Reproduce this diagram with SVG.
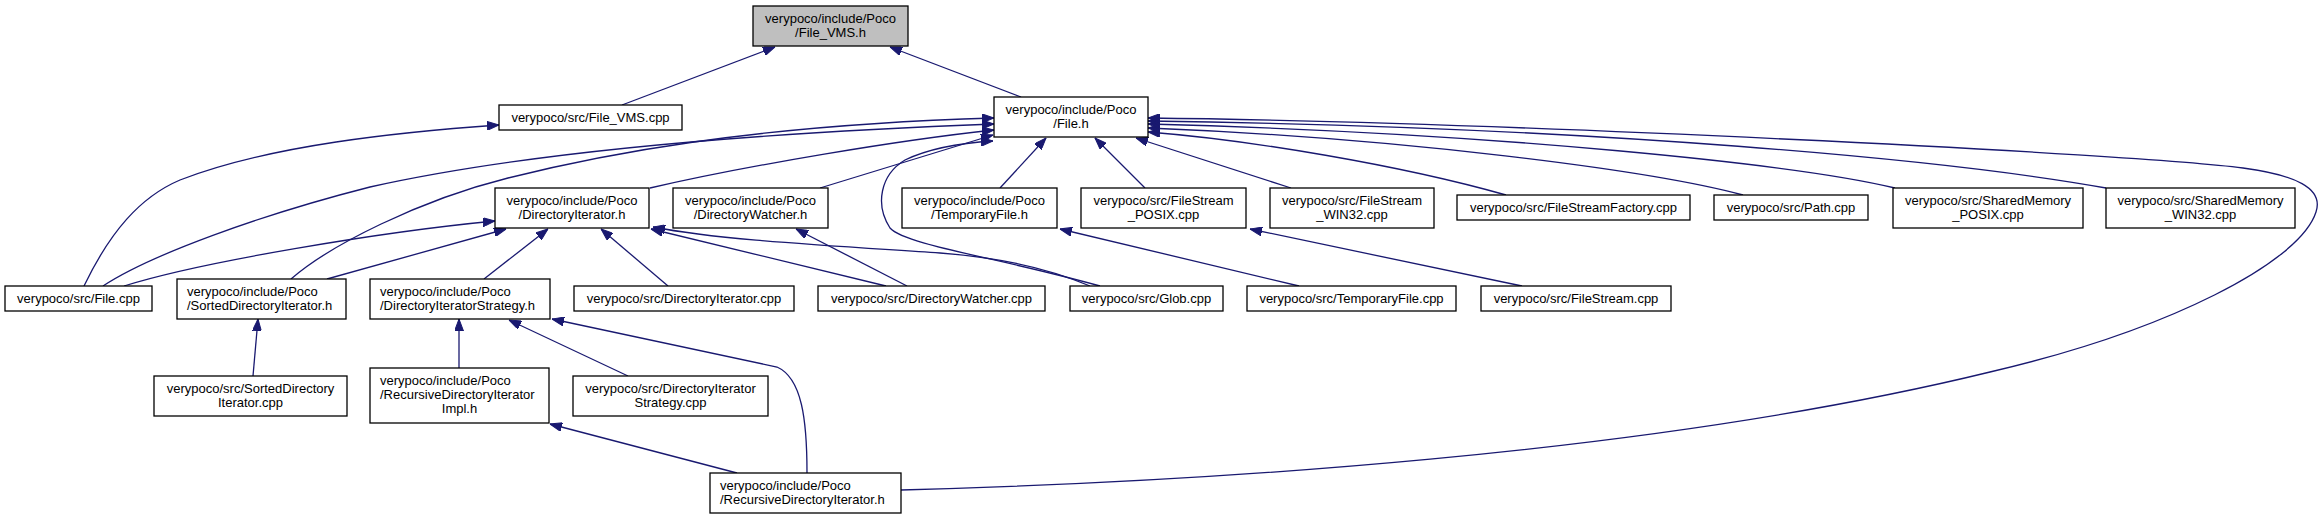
<svg xmlns="http://www.w3.org/2000/svg" width="2323" height="520" viewBox="0 0 2323 520">
<style>
.n rect{fill:#ffffff;stroke:#000000;stroke-width:1.3}
.n.g rect{fill:#bfbfbf}
.n text{font-family:"Liberation Sans",Arial,Helvetica,sans-serif;font-size:13px;fill:#000000;text-anchor:middle}
.n text.l{text-anchor:start}
.e path{fill:none;stroke:#191970;stroke-width:1.3;marker-end:url(#arr)}
</style>
<defs>
<marker id="arr" viewBox="0 0 12 9" refX="12" refY="4.5" markerWidth="12" markerHeight="9" markerUnits="userSpaceOnUse" orient="auto"><path d="M0,0 L12,4.5 L0,9 z" fill="#191970" stroke="#191970" stroke-width="1"/></marker>
</defs>
<rect width="2323" height="520" fill="#ffffff"/>
<g class="e" id="edges">
<path d="M622,105 L775,47"/>
<path d="M1021,97 L890,47"/>
<path d="M84,286 C110,232 140,197 180,180 C270,145 400,132 499,125"/>
<path d="M103,286 C150,255 260,215 370,187 C500,158 700,135 994,124"/>
<path d="M291,279 C330,245 420,200 508,178 C600,155 750,125 994,118"/>
<path d="M124,286 C200,262 380,232 495,221"/>
<path d="M327,279 L506,229"/>
<path d="M484,279 L548,229"/>
<path d="M668,286 L601,229"/>
<path d="M886,286 L651,229"/>
<path d="M1090,286 C1040,265 990,257 940,253 C820,245 720,240 653,227"/>
<path d="M907,286 L796,229"/>
<path d="M650,188 C750,165 900,140 994,130"/>
<path d="M820,188 L993,135"/>
<path d="M1100,286 C1000,258 905,245 890,228 C875,205 880,175 905,160 C930,148 960,143 993,141"/>
<path d="M1000,188 L1046,138"/>
<path d="M1145,188 L1095,138"/>
<path d="M1291,188 L1136,138"/>
<path d="M1506,195 C1400,165 1250,140 1148,132"/>
<path d="M1743,195 C1650,170 1400,138 1148,128"/>
<path d="M1895,188 C1800,165 1500,133 1148,124"/>
<path d="M2106,188 C1950,160 1600,127 1148,121"/>
<path d="M901,490 C1200,482 1650,455 1990,372 C2170,330 2300,262 2316,212 C2324,188 2295,175 2243,168 C2140,154 1500,122 1148,118"/>
<path d="M1299,286 L1060,229"/>
<path d="M1522,286 L1250,229"/>
<path d="M253,376 L258,319"/>
<path d="M459,368 L459,319"/>
<path d="M628,376 L509,320"/>
<path d="M807,473 C807,420 802,378 777,367 L552,319"/>
<path d="M737,473 L550,424"/>
</g>
<g class="n g" id="n_file_vms_h"><rect x="753" y="6" width="155" height="40"/><text x="830.5" y="23">verypoco/include/Poco</text><text x="830.5" y="37">/File_VMS.h</text></g>
<g class="n" id="n_file_vms_cpp"><rect x="499" y="105" width="183" height="25"/><text x="590.5" y="122">verypoco/src/File_VMS.cpp</text></g>
<g class="n" id="n_file_h"><rect x="994" y="97" width="154" height="40"/><text x="1071" y="114">verypoco/include/Poco</text><text x="1071" y="128">/File.h</text></g>
<g class="n" id="n_diriter_h"><rect x="495" y="188" width="154" height="40"/><text x="572" y="205">verypoco/include/Poco</text><text x="572" y="219">/DirectoryIterator.h</text></g>
<g class="n" id="n_dirwatch_h"><rect x="673" y="188" width="155" height="40"/><text x="750.5" y="205">verypoco/include/Poco</text><text x="750.5" y="219">/DirectoryWatcher.h</text></g>
<g class="n" id="n_tempfile_h"><rect x="902" y="188" width="155" height="40"/><text x="979.5" y="205">verypoco/include/Poco</text><text x="979.5" y="219">/TemporaryFile.h</text></g>
<g class="n" id="n_fs_posix"><rect x="1081" y="188" width="165" height="40"/><text x="1163.5" y="205">verypoco/src/FileStream</text><text x="1163.5" y="219">_POSIX.cpp</text></g>
<g class="n" id="n_fs_win32"><rect x="1270" y="188" width="164" height="40"/><text x="1352" y="205">verypoco/src/FileStream</text><text x="1352" y="219">_WIN32.cpp</text></g>
<g class="n" id="n_fsfactory"><rect x="1457" y="195" width="233" height="25"/><text x="1573.5" y="212">verypoco/src/FileStreamFactory.cpp</text></g>
<g class="n" id="n_path"><rect x="1714" y="195" width="154" height="25"/><text x="1791" y="212">verypoco/src/Path.cpp</text></g>
<g class="n" id="n_sm_posix"><rect x="1893" y="188" width="190" height="40"/><text x="1988" y="205">verypoco/src/SharedMemory</text><text x="1988" y="219">_POSIX.cpp</text></g>
<g class="n" id="n_sm_win32"><rect x="2106" y="188" width="189" height="40"/><text x="2200.5" y="205">verypoco/src/SharedMemory</text><text x="2200.5" y="219">_WIN32.cpp</text></g>
<g class="n" id="n_file_cpp"><rect x="5" y="286" width="147" height="25"/><text x="78.5" y="303">verypoco/src/File.cpp</text></g>
<g class="n" id="n_sorted_h"><rect x="177" y="279" width="169" height="40"/><text class="l" x="187" y="296">verypoco/include/Poco</text><text class="l" x="187" y="310">/SortedDirectoryIterator.h</text></g>
<g class="n" id="n_strategy_h"><rect x="370" y="279" width="180" height="40"/><text class="l" x="380" y="296">verypoco/include/Poco</text><text class="l" x="380" y="310">/DirectoryIteratorStrategy.h</text></g>
<g class="n" id="n_diriter_cpp"><rect x="574" y="286" width="220" height="25"/><text x="684" y="303">verypoco/src/DirectoryIterator.cpp</text></g>
<g class="n" id="n_dirwatch_cpp"><rect x="818" y="286" width="227" height="25"/><text x="931.5" y="303">verypoco/src/DirectoryWatcher.cpp</text></g>
<g class="n" id="n_glob"><rect x="1070" y="286" width="153" height="25"/><text x="1146.5" y="303">verypoco/src/Glob.cpp</text></g>
<g class="n" id="n_tempfile_cpp"><rect x="1247" y="286" width="209" height="25"/><text x="1351.5" y="303">verypoco/src/TemporaryFile.cpp</text></g>
<g class="n" id="n_filestream"><rect x="1481" y="286" width="190" height="25"/><text x="1576" y="303">verypoco/src/FileStream.cpp</text></g>
<g class="n" id="n_sorted_cpp"><rect x="154" y="376" width="193" height="40"/><text x="250.5" y="393">verypoco/src/SortedDirectory</text><text x="250.5" y="407">Iterator.cpp</text></g>
<g class="n" id="n_rdiimpl"><rect x="370" y="368" width="179" height="55"/><text class="l" x="380" y="385">verypoco/include/Poco</text><text class="l" x="380" y="399">/RecursiveDirectoryIterator</text><text x="459.5" y="413">Impl.h</text></g>
<g class="n" id="n_strategy_cpp"><rect x="573" y="376" width="195" height="40"/><text x="670.5" y="393">verypoco/src/DirectoryIterator</text><text x="670.5" y="407">Strategy.cpp</text></g>
<g class="n" id="n_rdi"><rect x="710" y="473" width="191" height="40"/><text class="l" x="720" y="490">verypoco/include/Poco</text><text class="l" x="720" y="504">/RecursiveDirectoryIterator.h</text></g>
</svg>
